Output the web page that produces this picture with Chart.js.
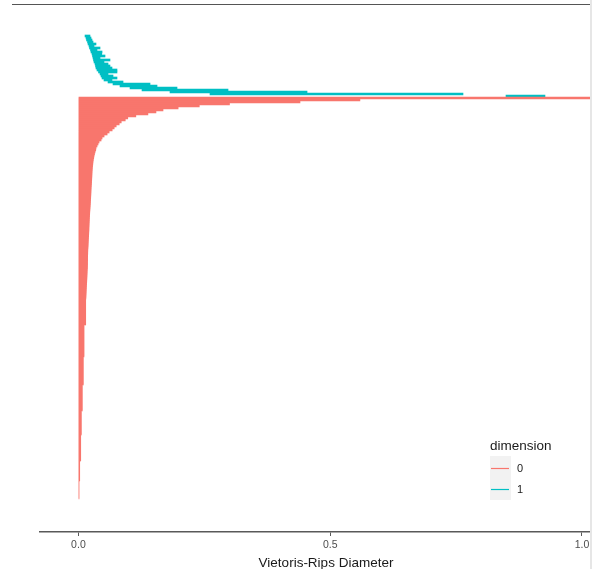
<!DOCTYPE html>
<html>
<head>
<meta charset="utf-8">
<title>Barcode</title>
<script src="https://cdn.jsdelivr.net/npm/chart.js"></script>
<style>
  html, body { margin: 0; padding: 0; background: #fff; overflow: hidden; }
  #wrap { position: relative; width: 592px; height: 569px; overflow: hidden; }
  #lineTop { position: absolute; left: 12px; top: 4px; width: 580px; height: 1px; background: #555; }
  #lineRight { position: absolute; left: 590px; top: 0; width: 2px; height: 569px; background: #e6e6e6; }
</style>
</head>
<body>
<div id="wrap">
  <canvas id="myChart" width="620" height="580"></canvas>
  <div id="lineTop"></div>
  <div id="lineRight"></div>
</div>
<script>
// dimension 0 bars (all born at 0), longest first
var dim0Death = [
  1.05, 0.559, 0.44, 0.30, 0.24, 0.198, 0.168, 0.154, 0.138, 0.114,
  0.098, 0.093, 0.085, 0.081, 0.075, 0.071, 0.067, 0.061, 0.057, 0.051,
  0.047, 0.045, 0.041, 0.039, 0.037, 0.035, 0.0344, 0.033, 0.032, 0.031,
  0.0304, 0.0296, 0.029, 0.0286, 0.0282, 0.0278, 0.0275, 0.0272, 0.027, 0.0268,
  0.0266, 0.0264, 0.0262, 0.026, 0.0257, 0.0254, 0.0252, 0.025, 0.0248, 0.0246,
  0.0244, 0.0242, 0.024, 0.0238, 0.0235, 0.0232, 0.0229, 0.0226, 0.0224, 0.0222,
  0.022, 0.0218, 0.0216, 0.0214, 0.0212, 0.021, 0.0209, 0.0207, 0.0205, 0.0203,
  0.0201, 0.0199, 0.0197, 0.0195, 0.0193, 0.019, 0.0187, 0.0186, 0.0185, 0.0184,
  0.0183, 0.0183, 0.0182, 0.0182, 0.0181, 0.018, 0.0177, 0.0175, 0.0173, 0.0171,
  0.0169, 0.0167, 0.0165, 0.0163, 0.0161, 0.0159, 0.0157, 0.0155, 0.0153, 0.0151,
  0.0149,
  0.0145, 0.0145, 0.0145, 0.0145, 0.0145, 0.0145, 0.0145, 0.0145, 0.0145, 0.0145, 0.0145, 0.0145, 0.0145,
  0.0111, 0.0111, 0.0111, 0.0111, 0.0111, 0.0111, 0.0111, 0.0111, 0.0111, 0.0111, 0.0111, 0.0111, 0.0111, 0.0111, 0.0111, 0.0111,
  0.0097, 0.0097, 0.0097, 0.0097, 0.0097, 0.0097, 0.0097, 0.0097, 0.0097, 0.0097, 0.0097, 0.0097, 0.0097, 0.0097,
  0.0077, 0.0077, 0.0077, 0.0077, 0.0077, 0.0077, 0.0077, 0.0077, 0.0077, 0.0077, 0.0077, 0.0077, 0.0077,
  0.0058, 0.0058, 0.0058, 0.0058, 0.0058, 0.0058, 0.0058, 0.0058, 0.0058, 0.0058, 0.0058, 0.0058,
  0.0046, 0.0046, 0.0046, 0.0046, 0.0046, 0.0046, 0.0046, 0.0046, 0.0046, 0.0046, 0.0046, 0.0046, 0.0046,
  0.0026, 0.0026, 0.0026, 0.0026, 0.0026, 0.0026, 0.0026, 0.0026, 0.0026, 0.0026,
  0.0012, 0.0012, 0.0012, 0.0012, 0.0012, 0.0012, 0.0012, 0.0012, 0.0012
];

// dimension 1 bars, top to bottom
var dim1Birth = [
  0.0131, 0.0151, 0.0161, 0.0181, 0.0191, 0.0210, 0.0220, 0.0240, 0.0250, 0.0270,
  0.0280, 0.0290, 0.0300, 0.0310, 0.0330, 0.0340, 0.0349, 0.0369, 0.0399, 0.0429,
  0.0449, 0.0469, 0.0508, 0.0588, 0.0687, 0.0826, 0.1025, 0.1263, 0.1819, 0.2613,
  0.8491
];
var dim1Death = [
  0.0230, 0.0250, 0.0270, 0.0290, 0.0349, 0.0310, 0.0429, 0.0369, 0.0469, 0.0463,
  0.0528, 0.0429, 0.0627, 0.0508, 0.0588, 0.0627, 0.0667, 0.0766, 0.0766, 0.0588,
  0.0687, 0.0766, 0.0667, 0.0886, 0.1422, 0.1561, 0.1958, 0.2971, 0.4540, 0.7637,
  0.9265
];

var dimLabels = ["0", "1"];
var dimColors = ["#F8766D", "#00BFC4"];
var tickValues = [0, 0.5, 1.0];

var bars1 = dim1Birth.map(function (b, i) {
  return { y: i, x: [b, dim1Death[i]] };
});
var bars0 = dim0Death.map(function (d, i) {
  return { y: dim1Birth.length + i, x: [0, d] };
});
var nBars = dim1Birth.length + dim0Death.length;

var legendPlugin = {
  id: "dimLegend",
  afterDraw: function (chart) {
    var ctx = chart.ctx;
    ctx.save();
    ctx.font = '13.5px "Liberation Sans", Arial, sans-serif';
    ctx.fillStyle = "#1a1a1a";
    ctx.textBaseline = "alphabetic";
    ctx.fillText("dimension", 490, 450);
    ctx.fillStyle = "#F2F2F2";
    ctx.fillRect(490, 456, 21, 44);
    chart.data.datasets.forEach(function (ds, i) {
      var y = 468.5 + i * 21;
      ctx.strokeStyle = ds.backgroundColor;
      ctx.lineWidth = 1.2;
      ctx.beginPath();
      ctx.moveTo(491, y);
      ctx.lineTo(509, y);
      ctx.stroke();
      ctx.fillStyle = "#1a1a1a";
      ctx.font = '11px "Liberation Sans", Arial, sans-serif';
      ctx.textBaseline = "middle";
      ctx.fillText(ds.label, 517, y + 0.5);
    });
    ctx.restore();
  }
};

new Chart("myChart", {
  type: "bar",
  data: {
    datasets: [{
      label: dimLabels[0],
      data: bars0,
      backgroundColor: dimColors[0],
      borderWidth: 0,
      barPercentage: 1,
      categoryPercentage: 1,
      grouped: false
    }, {
      label: dimLabels[1],
      data: bars1,
      backgroundColor: dimColors[1],
      borderWidth: 0,
      barPercentage: 1,
      categoryPercentage: 1,
      grouped: false
    }]
  },
  options: {
    indexAxis: "y",
    responsive: false,
    animation: false,
    layout: { padding: { top: 10, left: 40, right: 8, bottom: 10 } },
    plugins: {
      legend: { display: false },
      tooltip: { enabled: false }
    },
    scales: {
      y: {
        type: "linear",
        display: false,
        reverse: true,
        offset: false,
        min: -13,
        max: nBars - 1 + 17
      },
      x: {
        type: "linear",
        min: -0.0763,
        max: 1.0596,
        afterBuildTicks: function (axis) {
          axis.ticks = tickValues.map(function (v) { return { value: v }; });
        },
        border: { display: true, color: "#595959", width: 1.5 },
        grid: { drawOnChartArea: false, drawTicks: true, tickLength: 4, color: "#595959" },
        ticks: {
          color: "#4D4D4D",
          padding: 4,
          font: { family: '"Liberation Sans", Arial, sans-serif', size: 10.5, lineHeight: 1 },
          callback: function (v) { return Number(v).toFixed(1); }
        },
        title: {
          display: true,
          text: "Vietoris-Rips Diameter",
          color: "#1a1a1a",
          padding: { top: 2, bottom: 0 },
          font: { family: '"Liberation Sans", Arial, sans-serif', size: 13.5, lineHeight: 1 }
        }
      }
    }
  },
  plugins: [legendPlugin]
});
</script>
</body>
</html>
